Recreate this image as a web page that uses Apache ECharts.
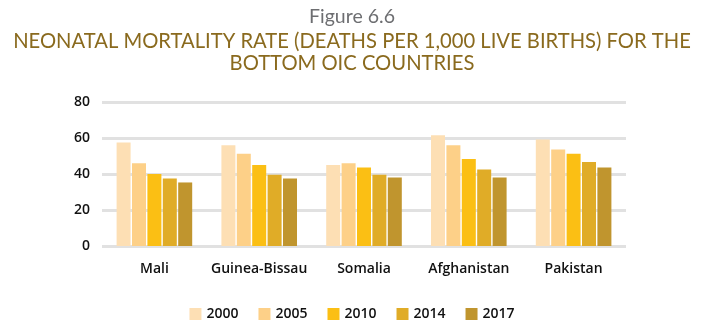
<!DOCTYPE html>
<html><head><meta charset="utf-8">
<script src="https://cdn.jsdelivr.net/npm/echarts@6/dist/echarts.min.js"></script>
<style>html,body{margin:0;padding:0;background:#fff}#c{width:704px;height:332px}</style>
</head><body><div id="c"></div>
<script>
const categories = ['Mali', 'Guinea-Bissau', 'Somalia', 'Afghanistan', 'Pakistan'];
const years = ['2000', '2005', '2010', '2014', '2017'];
const v2000 = [57.5, 56, 45, 61.5, 59.2];
const v2005 = [46, 51.3, 46, 56, 53.6];
const v2010 = [40, 45, 43.6, 48.3, 51.3];
const v2014 = [37.5, 39.6, 39.6, 42.5, 46.6];
const v2017 = [35.3, 37.5, 38, 38, 43.6];
const yTicks = [0, 20, 40, 60, 80];
const colors = ['#FDDFB4', '#FDD088', '#FBBF14', '#E0AC27', '#C0952E'];
const seriesData = [v2000, v2005, v2010, v2014, v2017];

const chart = echarts.init(document.getElementById('c'));
chart.setOption({
  animation: false,
  title: [
    {text: 'Figure 6.6', left: 'center', top: 2,
     textStyle: {fontFamily: 'Lato', fontSize: 19.5, fontWeight: 'normal', color: '#6D6E71'}},
    {text: 'NEONATAL MORTALITY RATE (DEATHS PER 1,000 LIVE BIRTHS) FOR THE', left: 'center', top: 26,
     textStyle: {fontFamily: 'Lato', fontSize: 20.2, fontWeight: 'normal', color: '#8A6A1E'}},
    {text: 'BOTTOM OIC COUNTRIES', left: 'center', top: 48,
     textStyle: {fontFamily: 'Lato', fontSize: 20.2, fontWeight: 'normal', color: '#8A6A1E'}}
  ],
  legend: {
    data: years, bottom: 6, left: 'center', itemWidth: 12, itemHeight: 12, itemGap: 20,
    icon: 'rect',
    textStyle: {fontFamily: 'Open Sans', fontSize: 14, fontWeight: 600, color: '#111'}
  },
  grid: {left: 102, right: 78, top: 102, bottom: 86},
  xAxis: {
    type: 'category', data: categories,
    axisLine: {show: false}, axisTick: {show: false},
    axisLabel: {interval: 0, fontFamily: 'Open Sans', fontSize: 14, fontWeight: 600, color: '#111', margin: 16}
  },
  yAxis: {
    type: 'value', min: 0, max: 80, interval: 20,
    axisLine: {show: false}, axisTick: {show: false},
    splitLine: {lineStyle: {color: '#E1E1E1', width: 3}},
    axisLabel: {fontFamily: 'Open Sans', fontSize: 14, fontWeight: 600, color: '#111', margin: 12,
      formatter: v => yTicks.includes(v) ? String(v) : ''}
  },
  series: years.map((y, i) => ({
    name: y, type: 'bar', data: seriesData[i], barWidth: 14, barGap: '10%',
    itemStyle: {color: colors[i]}
  }))
});
</script></body></html>
